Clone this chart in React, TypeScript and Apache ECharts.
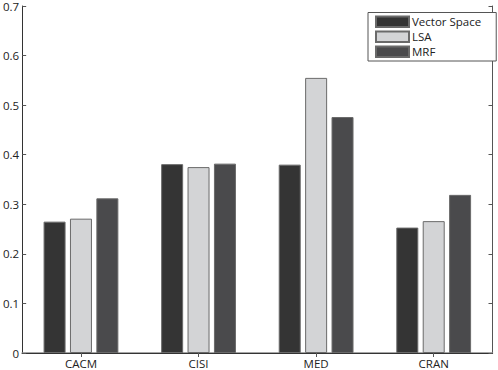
import React, { useEffect, useRef } from "react";
import * as echarts from "echarts";

const categories = ["CACM", "CISI", "MED", "CRAN"];
const seriesNames = ["Vector Space", "LSA", "MRF"];
const vectorSpace = [0.265, 0.381, 0.380, 0.253];
const lsa = [0.271, 0.375, 0.555, 0.266];
const mrf = [0.312, 0.382, 0.476, 0.319];
const colors = ["#343434", "#d3d4d6", "#4a4a4c"];
const yTicks = { min: 0, max: 0.7, interval: 0.1 };

export default function App() {
  const ref = useRef<HTMLDivElement>(null);
  useEffect(() => {
    document.body.style.margin = "0";
    const chart = echarts.init(ref.current!, undefined, { renderer: "svg" });
    const font = "Open Sans";
    const data = [vectorSpace, lsa, mrf];
    chart.setOption({
      animation: false,
      backgroundColor: "#ffffff",
      grid: { left: 20, right: 5.5, top: 6, bottom: 17, containLabel: false },
      legend: {
        orient: "vertical",
        left: 368,
        top: 12.5,
        padding: [3, 15, 3, 7],
        itemWidth: 33,
        itemHeight: 10.5,
        itemGap: 2.5,
        borderColor: "#555555",
        borderWidth: 1,
        backgroundColor: "#ffffff",
        icon: "rect",
        textStyle: { fontFamily: font, fontSize: 11.5, color: "#222222", padding: [0, 0, 0, -2] },
        data: seriesNames,
      },
      xAxis: [
        {
          type: "category",
          data: categories,
          position: "bottom",
          axisLine: { show: true, lineStyle: { color: "#8a8a8a", width: 1.5 } },
          axisTick: { show: true, inside: true, length: 4, alignWithLabel: true, lineStyle: { color: "#333" } },
          axisLabel: { fontFamily: font, fontSize: 11.5, color: "#222", margin: 4 },
          splitLine: { show: false },
        },
        {
          type: "category",
          data: categories,
          position: "top",
          axisLine: { show: true, lineStyle: { color: "#333", width: 1 } },
          axisTick: { show: true, inside: true, length: 4, alignWithLabel: true, lineStyle: { color: "#555" } },
          axisLabel: { show: false },
          splitLine: { show: false },
        },
      ],
      yAxis: [
        {
          type: "value",
          ...yTicks,
          position: "left",
          axisLine: { show: true, lineStyle: { color: "#333", width: 1 } },
          axisTick: { show: true, inside: true, length: 4, lineStyle: { color: "#555" } },
          axisLabel: { fontFamily: font, fontSize: 11.5, color: "#222", margin: 3 },
          splitLine: { show: false },
        },
        {
          type: "value",
          ...yTicks,
          position: "right",
          axisLine: { show: true, lineStyle: { color: "#555", width: 1 } },
          axisTick: { show: true, inside: true, length: 4, lineStyle: { color: "#555" } },
          axisLabel: { show: false },
          splitLine: { show: false },
        },
      ],
      series: seriesNames.map((name, i) => ({
        name,
        type: "bar",
        data: data[i],
        barWidth: 22,
        barGap: "20%",
        itemStyle: { color: colors[i], borderColor: "#6a6a6a", borderWidth: 1 },
      })),
    });
    return () => chart.dispose();
  }, []);
  return <div ref={ref} style={{ width: 498, height: 370, position: "absolute", left: 0, top: 0 }} />;
}
